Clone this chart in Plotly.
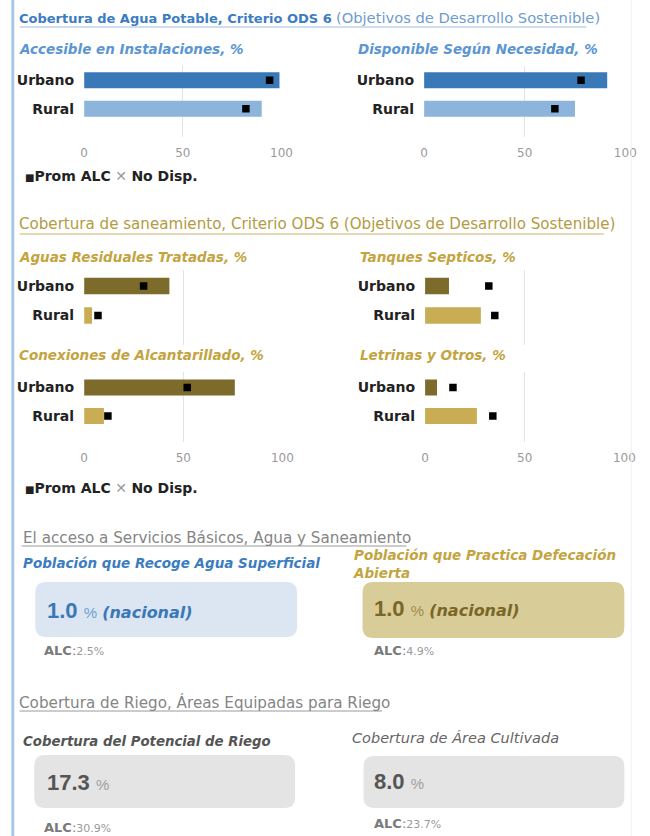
import plotly.graph_objects as go

W, H = 650, 836


def px(x):
    return x / W


def py(y):
    return 1 - y / H


# ---------------- data ----------------
categories = ["Urbano", "Rural"]
tick_values = [0, 50, 100]

# Agua potable (ODS 6)
accesible = [99, 90]
accesible_alc = [94, 82]
disponible = [91, 75]
disponible_alc = [78, 65]

# Saneamiento (ODS 6)
aguas_tratadas = [43, 4]
aguas_tratadas_alc = [30, 7]
tanques = [12, 28]
tanques_alc = [32, 35]
alcantarillado = [76, 10]
alcantarillado_alc = [52, 12]
letrinas = [6, 26]
letrinas_alc = [14, 34]

# Tarjetas de indicadores
agua_superficial = 1.0
agua_superficial_alc = 2.5
defecacion_abierta = 1.0
defecacion_abierta_alc = 4.9
riego_potencial = 17.3
riego_potencial_alc = 30.9
riego_cultivada = 8.0
riego_cultivada_alc = 23.7

# ---------------- styles ----------------
FONT = "DejaVu Sans"
FONT_NUM = "Liberation Sans"
BLUE_DARK = "#3a79b8"
BLUE_LIGHT = "#8db5dc"
OLIVE_DARK = "#7d6b2b"
GOLD_LIGHT = "#c8ad55"
BLUE_TITLE = "#3b7cc2"
BLUE_SUB = "#5b96d2"
GOLD_TITLE = "#b39b42"
GOLD_SUB = "#c3a43e"
GRAY_TITLE = "#858585"
GRID = "#e3e3e3"

# values, alc, x-domain px, y-domain px, Urbano centre px, row spacing px, colours, tick labels
panels = [
    (accesible, accesible_alc, (82, 284), (66, 137), 80.2, 28.5, (BLUE_DARK, BLUE_LIGHT), True),
    (disponible, disponible_alc, (430, 636), (66, 137), 80.2, 28.5, (BLUE_DARK, BLUE_LIGHT), True),
    (aguas_tratadas, aguas_tratadas_alc, (82, 285), (270, 345), 286, 29.5, (OLIVE_DARK, GOLD_LIGHT), False),
    (tanques, tanques_alc, (431, 635), (270, 345), 286, 29.5, (OLIVE_DARK, GOLD_LIGHT), False),
    (alcantarillado, alcantarillado_alc, (82, 285), (372, 442), 387.5, 28.5, (OLIVE_DARK, GOLD_LIGHT), True),
    (letrinas, letrinas_alc, (431, 635), (372, 442), 387.5, 28.5, (OLIVE_DARK, GOLD_LIGHT), True),
]

fig = go.Figure()
layout_axes = {}

for i, (vals, alc, (x0, x1), (y0, y1), c0, unit, cols, show_ticks) in enumerate(panels, start=1):
    xa = "x" if i == 1 else f"x{i}"
    ya = "y" if i == 1 else f"y{i}"
    fig.add_trace(go.Bar(
        x=vals, y=[0, 1], orientation="h", xaxis=xa, yaxis=ya,
        marker=dict(color=list(cols), line=dict(width=0)), width=0.56,
        showlegend=False, hoverinfo="x",
    ))
    fig.add_trace(go.Scatter(
        x=alc, y=[0, 1], mode="markers", xaxis=xa, yaxis=ya,
        marker=dict(symbol="square", size=7.5, color="#000000"),
        showlegend=False, hoverinfo="x",
    ))
    rng_bottom = (y1 - c0) / unit
    rng_top = (y0 - c0) / unit
    layout_axes["xaxis" if i == 1 else f"xaxis{i}"] = dict(
        domain=[px(x0), px(x1)], range=[0, 100], anchor=ya,
        tickvals=tick_values, showticklabels=show_ticks,
        tickfont=dict(family=FONT, size=12, color="#9a9a9a"),
        ticklabelstandoff=7,
        showgrid=True, gridcolor=GRID, gridwidth=1,
        zeroline=False, showline=False, ticks="", fixedrange=True,
    )
    layout_axes["yaxis" if i == 1 else f"yaxis{i}"] = dict(
        domain=[py(y1), py(y0)], range=[rng_bottom, rng_top], anchor=xa,
        tickvals=[0, 1], ticktext=categories,
        tickfont=dict(family=FONT, size=14, color="#222222", weight="bold"),
        ticklabelstandoff=9,
        showgrid=False, zeroline=False, showline=False, ticks="", fixedrange=True,
    )

annotations = []


def text(x, y, s, size=13, color="#333", family=FONT, xanchor="left", yanchor="middle", align="left"):
    # annotation boxes carry ~3px of inner padding, so shift the anchor left
    annotations.append(dict(
        x=px(x - 3), y=py(y), xref="paper", yref="paper", text=s, showarrow=False,
        xanchor=xanchor, yanchor=yanchor, align=align,
        font=dict(family=family, size=size, color=color),
    ))


shapes = []


def hline(x0, x1, y, color, width=1):
    shapes.append(dict(type="line", xref="paper", yref="paper",
                       x0=px(x0), x1=px(x1), y0=py(y), y1=py(y),
                       line=dict(color=color, width=width)))


def round_box(x0, y0, x1, y1, r, fill):
    rx, ry = r / W, r / H
    X0, X1, Y0, Y1 = px(x0), px(x1), py(y0), py(y1)
    path = (f"M {X0 + rx},{Y0} L {X1 - rx},{Y0} Q {X1},{Y0} {X1},{Y0 - ry} "
            f"L {X1},{Y1 + ry} Q {X1},{Y1} {X1 - rx},{Y1} "
            f"L {X0 + rx},{Y1} Q {X0},{Y1} {X0},{Y1 + ry} "
            f"L {X0},{Y0 - ry} Q {X0},{Y0} {X0 + rx},{Y0} Z")
    shapes.append(dict(type="path", xref="paper", yref="paper", path=path,
                       fillcolor=fill, line=dict(width=0), layer="below"))


# left accent bar and faint right border
shapes.append(dict(type="line", xref="paper", yref="paper", x0=px(9), x1=px(9), y0=0, y1=1,
                   line=dict(color="#a9c8e6", width=3)))
shapes.append(dict(type="line", xref="paper", yref="paper", x0=px(642), x1=px(642), y0=0, y1=1,
                   line=dict(color="#f0f0f0", width=1)))

SUB = 13.5

# ---- Agua potable ----
text(16, 17, f"<b>Cobertura de Agua Potable, Criterio ODS 6</b> "
             f"<span style='color:#6d9bd0;font-size:14.7px'>(Objetivos de Desarrollo Sostenible)</span>",
     size=13, color=BLUE_TITLE)
hline(16, 596, 27, "#9dbde0")
text(16, 49, "<b><i>Accesible en Instalaciones, %</i></b>", size=SUB, color=BLUE_SUB)
text(363, 49, "<b><i>Disponible Según Necesidad, %</i></b>", size=SUB, color=BLUE_SUB)
legend_txt = ("<b><span style='font-size:10px'>■</span>Prom ALC</b> "
              "<span style='color:#999999'>✕</span> <b>No Disp.</b>")
text(22, 176, legend_txt, size=14, color="#222222")

# ---- Saneamiento ----
text(16, 224, "Cobertura de saneamiento, Criterio ODS 6 (Objetivos de Desarrollo Sostenible)",
     size=15.1, color=GOLD_TITLE)
hline(16, 614, 234, "#c9b46a")
text(16, 257, "<b><i>Aguas Residuales Tratadas, %</i></b>", size=SUB, color=GOLD_SUB)
text(365, 257, "<b><i>Tanques Septicos, %</i></b>", size=SUB, color=GOLD_SUB)
text(16, 355, "<b><i>Conexiones de Alcantarillado, %</i></b>", size=SUB, color=GOLD_SUB)
text(365, 355, "<b><i>Letrinas y Otros, %</i></b>", size=SUB, color=GOLD_SUB)
text(22, 488, legend_txt, size=14, color="#222222")

# ---- Servicios básicos ----
text(20, 538, "El acceso a Servicios Básicos, Agua y Saneamiento", size=15.2, color=GRAY_TITLE)
hline(18, 412, 546, "#9a9a9a")
text(20, 563, "<b><i>Población que Recoge Agua Superficial</i></b>", size=SUB, color="#3c7cc0")
text(358, 564, "<b><i>Población que Practica Defecación<br>Abierta</i></b>", size=SUB, color=GOLD_SUB)

round_box(32, 582, 300, 637, 11, "#dbe6f2")
round_box(367, 582, 635, 638, 11, "#d8cc99")


def card_value(x, y, value, color, unit_color, extra):
    s = (f"<b>{value:.1f}</b> <span style='font-size:15px;color:{unit_color}'>%</span>"
         + (f"<span style='font-size:16px;color:{color};font-family:DejaVu Sans'> <b><i>{extra}</i></b></span>"
            if extra else ""))
    text(x, y, s, size=22, color=color, family=FONT_NUM)


card_value(45, 610, agua_superficial, "#3a78b6", "#6f9fd0", "(nacional)")
card_value(380, 608, defecacion_abierta, "#7a6626", "#a08c4c", "(nacional)")


def alc_line(x, y, v):
    text(x, y, f"<b>ALC</b>:<span style='font-size:11px;color:#9a9a9a'>{v:.1f}%</span>",
         size=13, color="#7a7a7a")


alc_line(42, 650, agua_superficial_alc)
alc_line(380, 650, defecacion_abierta_alc)

# ---- Riego ----
text(16, 702, "Cobertura de Riego, Áreas Equipadas para Riego", size=15.2, color=GRAY_TITLE)
hline(16, 387, 711, "#9a9a9a")
text(20, 741, "<b><i>Cobertura del Potencial de Riego</i></b>", size=13.3, color="#555555")
text(357, 738, "<i>Cobertura de Área Cultivada</i>", size=14.5, color="#666666")

round_box(31, 755, 298, 808, 11, "#e4e4e4")
round_box(368, 756, 635, 808, 11, "#e4e4e4")
card_value(45, 782, riego_potencial, "#555555", "#a0a0a0", "")
card_value(380, 781, riego_cultivada, "#555555", "#a0a0a0", "")
alc_line(42, 827, riego_potencial_alc)
alc_line(380, 823, riego_cultivada_alc)

fig.update_layout(
    width=W, height=H,
    margin=dict(l=0, r=0, t=0, b=0),
    paper_bgcolor="white", plot_bgcolor="white",
    annotations=annotations,
    shapes=shapes,
    **layout_axes,
)

fig.write_html("out.html")
